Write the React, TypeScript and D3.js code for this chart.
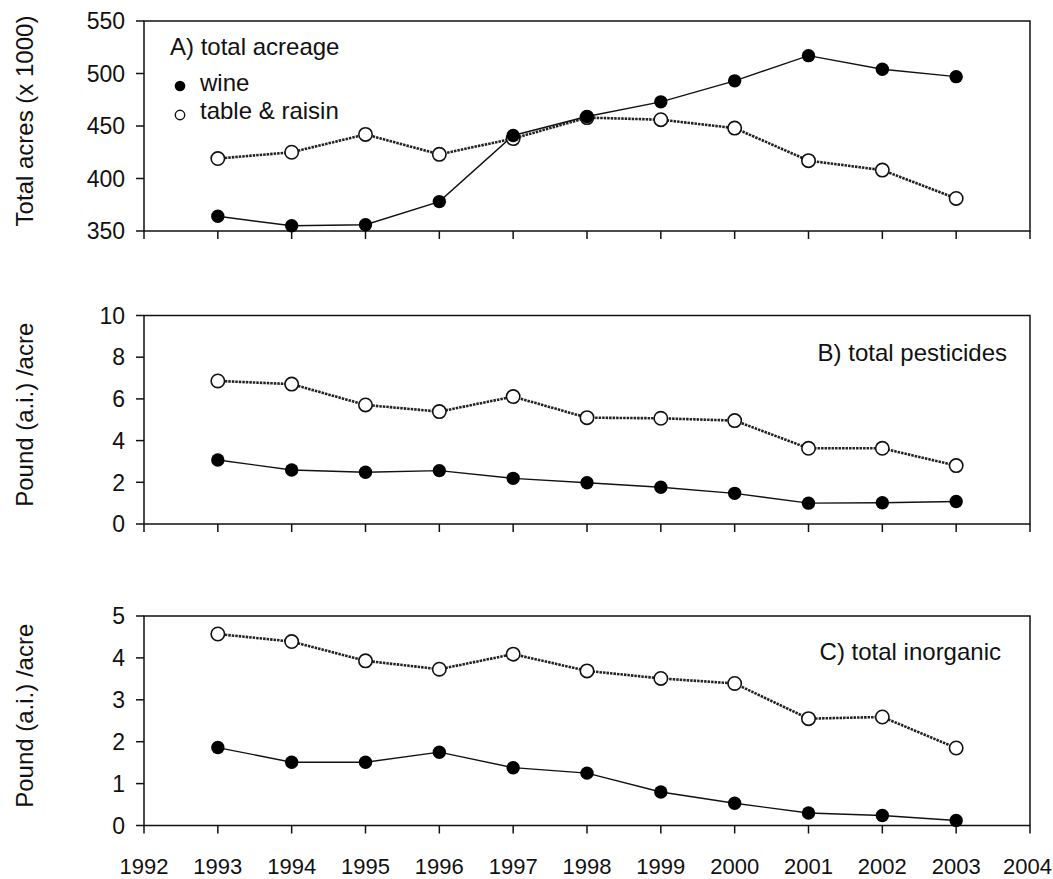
import React from "react";
import * as d3 from "d3";

const years = [1993, 1994, 1995, 1996, 1997, 1998, 1999, 2000, 2001, 2002, 2003];
const xTicks = [1992, 1993, 1994, 1995, 1996, 1997, 1998, 1999, 2000, 2001, 2002, 2003, 2004];

// Panel A: total acreage (x 1000)
const acreWine = [364, 355, 356, 378, 441, 459, 473, 493, 517, 504, 497];
const acreTable = [419, 425, 442, 423, 438, 458, 456, 448, 417, 408, 381];
const acreTicks = [350, 400, 450, 500, 550];

// Panel B: total pesticides (lb a.i./acre)
const pestWine = [3.07, 2.59, 2.48, 2.56, 2.19, 1.98, 1.76, 1.47, 1.0, 1.02, 1.08];
const pestTable = [6.86, 6.71, 5.71, 5.39, 6.11, 5.1, 5.07, 4.96, 3.63, 3.63, 2.8];
const pestTicks = [0, 2, 4, 6, 8, 10];

// Panel C: total inorganic (lb a.i./acre)
const inorgWine = [1.86, 1.51, 1.51, 1.75, 1.38, 1.25, 0.8, 0.53, 0.3, 0.24, 0.12];
const inorgTable = [4.57, 4.39, 3.93, 3.73, 4.09, 3.69, 3.51, 3.39, 2.55, 2.59, 1.85];
const inorgTicks = [0, 1, 2, 3, 4, 5];

const FONT = "'Liberation Sans', Arial, Helvetica, sans-serif";
const LEFT = 144;
const RIGHT = 1030;
const W = 1053;

const x = d3.scaleLinear().domain([1992, 2004]).range([LEFT, RIGHT]);

type PanelProps = {
  top: number;
  bottom: number;
  domain: [number, number];
  ticks: number[];
  wine: number[];
  table: number[];
  yTitle: string;
  showXLabels: boolean;
  children?: React.ReactNode;
};

function Panel({ top, bottom, domain, ticks, wine, table, yTitle, showXLabels, children }: PanelProps) {
  const y = d3.scaleLinear().domain(domain).range([bottom, top]);
  const line = d3
    .line<number>()
    .x((_, i) => x(years[i]))
    .y((d) => y(d));
  const r = 6.7;
  const xFont = 22;
  const halfLabel = (xFont * 2.224) / 2 + 1;
  return (
    <g>
      <rect x={LEFT} y={top} width={RIGHT - LEFT} height={bottom - top} fill="none" stroke="#111" strokeWidth={1.5} />
      {ticks.map((t) => (
        <g key={"y" + t}>
          <line x1={LEFT - 8} x2={LEFT} y1={y(t)} y2={y(t)} stroke="#111" strokeWidth={1.5} />
          <text x={125} y={y(t)} dy="0.36em" textAnchor="end" fontSize={23} fontFamily={FONT} fill="#111">
            {t}
          </text>
        </g>
      ))}
      {xTicks.map((t) => (
        <g key={"x" + t}>
          <line x1={x(t)} x2={x(t)} y1={bottom} y2={bottom + 8} stroke="#111" strokeWidth={1.5} />
          {showXLabels && (
            <text
              x={Math.min(x(t), W - halfLabel)}
              y={874}
              textAnchor="middle"
              fontSize={xFont}
              fontFamily={FONT}
              fill="#111"
            >
              {t}
            </text>
          )}
        </g>
      ))}
      <text
        transform={`translate(33,${(top + bottom) / 2 - 5}) rotate(-90)`}
        textAnchor="middle"
        fontSize={24}
        fontFamily={FONT}
        fill="#111"
      >
        {yTitle}
      </text>
      <path d={line(table) || ""} fill="none" stroke="#222" strokeWidth={2.6} strokeDasharray="2.5 1" />
      <path d={line(wine) || ""} fill="none" stroke="#111" strokeWidth={1.4} />
      {table.map((v, i) => (
        <circle key={"t" + i} cx={x(years[i])} cy={y(v)} r={r} fill="#fff" stroke="#111" strokeWidth={1.6} />
      ))}
      {wine.map((v, i) => (
        <circle key={"w" + i} cx={x(years[i])} cy={y(v)} r={r} fill="#000" />
      ))}
      {children}
    </g>
  );
}

export default function App() {
  return (
    <svg width={W} height={879} style={{ position: "absolute", left: 0, top: 0, background: "#fff" }}>
      <rect width={W} height={879} fill="#fff" />
      <Panel
        top={21}
        bottom={231}
        domain={[350, 550]}
        ticks={acreTicks}
        wine={acreWine}
        table={acreTable}
        yTitle="Total acres (x 1000)"
        showXLabels={false}
      >
        <text x={170} y={55} fontSize={24} fontFamily={FONT} fill="#111">
          A) total acreage
        </text>
        <circle cx={180} cy={86} r={5.3} fill="#000" />
        <text x={200} y={90.5} fontSize={24} fontFamily={FONT} fill="#111">
          wine
        </text>
        <circle cx={180} cy={115} r={4.7} fill="#fff" stroke="#111" strokeWidth={1.4} />
        <text x={200} y={118.5} fontSize={24} fontFamily={FONT} fill="#111">
          table &amp; raisin
        </text>
      </Panel>
      <Panel
        top={315.5}
        bottom={524}
        domain={[0, 10]}
        ticks={pestTicks}
        wine={pestWine}
        table={pestTable}
        yTitle="Pound (a.i.) /acre"
        showXLabels={false}
      >
        <text x={1007} y={361} textAnchor="end" fontSize={24} fontFamily={FONT} fill="#111">
          B) total pesticides
        </text>
      </Panel>
      <Panel
        top={616}
        bottom={825.5}
        domain={[0, 5]}
        ticks={inorgTicks}
        wine={inorgWine}
        table={inorgTable}
        yTitle="Pound (a.i.) /acre"
        showXLabels={true}
      >
        <text x={1001} y={660} textAnchor="end" fontSize={24} fontFamily={FONT} fill="#111">
          C) total inorganic
        </text>
      </Panel>
    </svg>
  );
}
